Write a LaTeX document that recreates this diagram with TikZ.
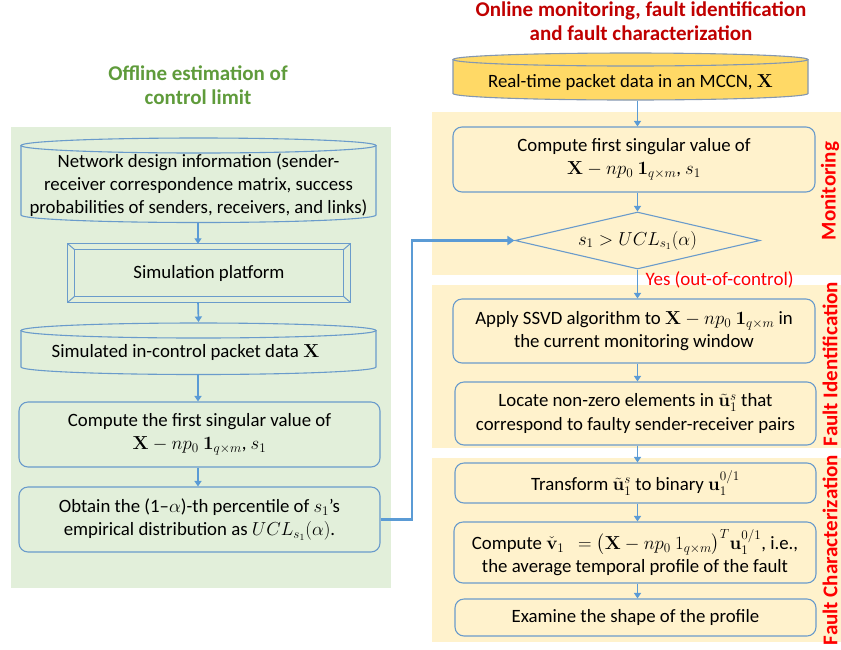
\RequirePackage{fix-cm}
\documentclass[tikz,border=0pt]{standalone}
\usepackage{amsmath}
\usepackage[no-math]{fontspec}
\setmainfont{Carlito}
\usetikzlibrary{shapes.geometric,arrows.meta,calc}

\definecolor{panelgreen}{HTML}{E2EFDA}
\definecolor{panelyellow}{HTML}{FFF2CC}
\definecolor{dbyellow}{HTML}{FFD966}
\definecolor{dbedge}{HTML}{8497B0}
\definecolor{boxline}{HTML}{6A9BCB}
\definecolor{arrowblue}{HTML}{5B9BD5}
\definecolor{titlegreen}{HTML}{5F9B3B}
\definecolor{titlered}{HTML}{C00000}
\definecolor{labelred}{HTML}{FF0000}

\tikzset{
  txt/.style={font=\fontsize{18.8}{23.2}\selectfont, align=center, inner sep=0pt},
  rbox/.style={txt, draw=boxline, line width=1.1pt, rounded corners=9pt},
  flow/.style={draw=arrowblue, line width=1.6pt, -{Triangle[width=7pt,length=5.5pt]}},
  link/.style={draw=arrowblue, line width=2.6pt, -{Triangle[width=9pt,length=7pt]}},
  title/.style={font=\fontsize{21}{24}\selectfont\bfseries, align=center, inner sep=0pt},
  phase/.style={font=\fontsize{21}{24}\selectfont\bfseries, text=labelred, rotate=90, inner sep=0pt},
}

% database drum: x1, y of top ellipse centre, x2, y of bottom ellipse centre, y radius, fill, edge
\newcommand\dbshape[7]{%
  \pgfmathsetmacro\rxx{(#3-#1)/2}%
  \pgfmathsetmacro\cxx{(#3+#1)/2}%
  \fill[#6] (#1,#2) -- (#1,#4) arc[start angle=180,end angle=360,x radius=\rxx pt,y radius=#5pt] -- (#3,#2) -- cycle;
  \draw[#7, line width=1.1pt] (#1,#2) -- (#1,#4) arc[start angle=180,end angle=360,x radius=\rxx pt,y radius=#5pt] -- (#3,#2);
  \draw[#7, line width=1.1pt, fill=#6] (\cxx,#2) ellipse[x radius=\rxx pt,y radius=#5pt];
}

\begin{document}
\begin{tikzpicture}[x=1pt,y=-1pt]
\useasboundingbox (0,0) rectangle (841,649);

% phase panels
\fill[panelgreen] (11,127) rectangle (391,588);
\fill[panelyellow] (432,112) rectangle (841,275);
\fill[panelyellow] (432,285) rectangle (841,448);
\fill[panelyellow] (432,458) rectangle (841,642);

% titles
\node[title, text=titlegreen] (offtitle) at (198,85) {Offline estimation of\\control limit};
\node[title, text=titlered] (ontitle) at (641,21) {Online monitoring, fault identification\\and fault characterization};

% ---------- offline branch ----------
\dbshape{21}{145.5}{376}{215}{7.5}{panelgreen}{boxline}
\node[txt, minimum width=355pt, minimum height=76pt] (db1) at (198.5,185)
  {Network design information (sender-\\receiver correspondence matrix, success\\probabilities of senders, receivers, and links)};

% bevelled simulation box
\node[txt, minimum width=282pt, minimum height=58pt] (sim) at (209,273) {};
\draw[boxline, line width=1.1pt, fill=panelgreen] (sim.north west) rectangle (sim.south east);
\draw[boxline, line width=1pt] ($(sim.north west)+(7,6)$) rectangle ($(sim.south east)+(-7,-6)$);
\draw[boxline, line width=1pt] (sim.north west) -- ++(7,6)
  (sim.north east) -- ++(-7,6)
  (sim.south west) -- ++(7,-6)
  (sim.south east) -- ++(-7,-6);
\node[txt] (simtext) at (sim) {Simulation platform};

\dbshape{21}{330.5}{376}{367}{7.5}{panelgreen}{boxline}
\node[txt, minimum width=355pt, minimum height=43pt] (db2) at (198.5,352.5)
  {Simulated in-control packet data $\mathbf{X}$\hspace*{26pt}};

\node[rbox, fill=panelgreen, minimum width=361pt, minimum height=65pt] (cmp1) at (199.5,434.5)
  {Compute the first singular value of\\$\mathbf{X}-np_0\ \mathbf{1}_{q\times m}$, $s_1$};
\node[rbox, fill=panelgreen, minimum width=361pt, minimum height=65pt] (ucl) at (199.5,519.5)
  {Obtain the (1--$\alpha$)-th percentile of $s_1$’s\\empirical distribution as $UCL_{s_1}(\alpha)$.};

% ---------- online branch ----------
\dbshape{453}{59.5}{808}{93.5}{6.5}{dbyellow}{dbedge}
\node[txt, minimum width=355pt, minimum height=36pt] (rt) at (630.5,82.5)
  {Real-time packet data in an MCCN, $\mathbf{X}$};

\node[rbox, fill=panelyellow, minimum width=362pt, minimum height=65pt] (cmp2) at (634,159.5)
  {Compute first singular value of\\$\mathbf{X}-np_0\ \mathbf{1}_{q\times m}$, $s_1$};
\node[txt, diamond, aspect=4.3, draw=boxline, line width=1.1pt, fill=panelyellow,
      minimum width=245pt, minimum height=57pt] (dec) at (637.5,240.5)
  {$s_1 > UCL_{s_1}(\alpha)$};

\node[rbox, fill=panelyellow, minimum width=362pt, minimum height=64pt] (ssvd) at (634,331)
  {Apply SSVD algorithm to $\mathbf{X}-np_0\ \mathbf{1}_{q\times m}$ in\\the current monitoring window};
\node[rbox, fill=panelyellow, minimum width=361pt, minimum height=63pt] (loc) at (635.5,413.5)
  {Locate non-zero elements in $\tilde{\mathbf{u}}_1^s$ that\\correspond to faulty sender-receiver pairs};
\node[rbox, fill=panelyellow, minimum width=361pt, minimum height=40pt] (tr) at (635.5,483)
  {Transform $\tilde{\mathbf{u}}_1^s$ to binary $\mathbf{u}_1^{0/1}$};
\node[rbox, fill=panelyellow, minimum width=362pt, minimum height=61pt] (cv) at (635,552.5)
  {Compute $\check{\mathbf{v}}_1\ \ = \bigl(\mathbf{X}-np_0\ 1_{q\times m}\bigr)^T\mathbf{u}_1^{0/1}$, i.e.,\\the average temporal profile of the fault};
\node[rbox, fill=panelyellow, minimum width=361pt, minimum height=37pt] (ex) at (635.5,617.5)
  {Examine the shape of the profile};

% phase labels
\node[phase] (lmon) at (830,191) {Monitoring};
\node[phase] (lfid) at (830,364) {Fault Identification};
\node[phase] (lfch) at (830,550) {Fault Characterization};

% ---------- connectors ----------
\draw[flow] (db1.south -| 198,0) -- (sim.north -| 198,0);
\draw[flow] (sim.south -| 198,0) -- (db2.north |- 0,322);
\draw[flow] (db2.south -| 198,0) -- (cmp1.north -| 198,0);
\draw[flow] (cmp1.south -| 198,0) -- (ucl.north -| 198,0);

\draw[flow] (rt.south -| dec) -- (cmp2.north -| dec);
\draw[flow] (cmp2.south -| dec) -- (dec.north);
\draw[flow] (dec.south) -- node[pos=0.35, right=4pt, font=\fontsize{19}{22}\selectfont, text=labelred] (yes) {Yes (out-of-control)} (ssvd.north -| dec);
\draw[flow] (ssvd.south -| dec) -- (loc.north -| dec);
\draw[flow] (loc.south -| dec) -- (tr.north -| dec);
\draw[flow] (tr.south -| dec) -- (cv.north -| dec);
\draw[flow] (cv.south -| dec) -- (ex.north -| dec);

\coordinate (bend) at (412,519.5);
\draw[link] (ucl.east) -- (bend) |- (dec.west);
\end{tikzpicture}
\end{document}
